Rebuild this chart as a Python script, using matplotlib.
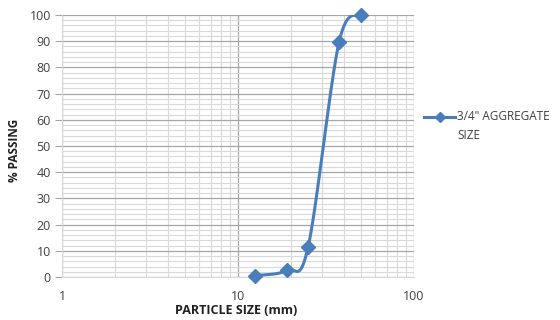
import numpy as np
import matplotlib
matplotlib.use("Agg")
import matplotlib.pyplot as plt
from matplotlib.lines import Line2D
from matplotlib.ticker import FixedLocator, NullFormatter

sizes_mm = [12.5, 19, 25, 37.5, 50]
pct_passing = [0.5, 2.5, 11.3, 89.6, 100]
series_name = '3/4" AGGREGATE\nSIZE'
x_label = "PARTICLE SIZE (mm)"
y_label = "% PASSING"

plt.rcParams['font.family'] = ['Open Sans', 'DejaVu Sans']

fig = plt.figure(figsize=(5.6, 3.2), dpi=100)
ax = fig.add_axes([62/560, 1 - 277/320, (414-62)/560, (277-15)/320])
ax.set_xscale('log')
ax.set_xlim(1, 100)
ax.set_ylim(0, 100)

# Excel-like smoothed line (Bezier spline in log-x / y space)
lx = np.log10(np.array(sizes_mm, dtype=float))
ly = np.array(pct_passing, dtype=float)
P = np.column_stack([lx, ly])
sx, sy = 176.0, 2.62
Pn = P * np.array([sx, sy])
pts = []
n = len(Pn)
for i in range(n - 1):
    p0 = Pn[i - 1] if i > 0 else Pn[i]
    p1 = Pn[i]
    p2 = Pn[i + 1]
    p3 = Pn[i + 2] if i + 2 < n else Pn[i + 1]
    c1 = p1 + (p2 - p0) / 6.0
    c2 = p2 - (p3 - p1) / 6.0
    t = np.linspace(0, 1, 40)[:, None]
    b = (1-t)**3*p1 + 3*(1-t)**2*t*c1 + 3*(1-t)*t**2*c2 + t**3*p2
    pts.append(b)
curve = np.vstack(pts) / np.array([sx, sy])
color = '#4A7EBB'
ax.plot(10**curve[:, 0], curve[:, 1], color=color, lw=2.2, zorder=3)
ax.plot(sizes_mm, pct_passing, linestyle='none', marker='D', ms=7,
        color=color, zorder=4, clip_on=False)

# grid
ax.yaxis.set_major_locator(FixedLocator(np.arange(0, 101, 10)))
ax.yaxis.set_minor_locator(FixedLocator(np.arange(0, 101, 2)))
ax.xaxis.set_major_locator(FixedLocator([1, 10, 100]))
minors = [m * d for d in (1, 10) for m in range(2, 10)]
ax.xaxis.set_minor_locator(FixedLocator(minors))
ax.xaxis.set_minor_formatter(NullFormatter())
ax.set_xticklabels(['1', '10', '100'])
ax.grid(which='major', color='#a6a6a6', lw=0.9)
ax.grid(which='minor', color='#d9d9d9', lw=0.8)
ax.set_axisbelow(True)
for s in ['top', 'right']:
    ax.spines[s].set_visible(False)
ax.spines['left'].set_color('#d9d9d9')
ax.spines['bottom'].set_color('#d9d9d9')
ax.tick_params(axis='y', which='major', length=5, color='#a6a6a6',
               labelsize=9, labelcolor='#404040', pad=3)
ax.tick_params(axis='y', which='minor', length=0)
ax.tick_params(axis='x', which='both', length=0, labelsize=9,
               labelcolor='#404040', pad=9)

ax.set_xlabel(x_label, fontsize=9, fontweight='bold', color='#202020', va='center')
ax.xaxis.set_label_coords(0.495, -0.128)
ax.set_ylabel(y_label, fontsize=8.5, fontweight='bold', color='#202020', va='center')
ax.yaxis.set_label_coords(-0.134, 0.485)

# legend: line + marker aligned with first text line
fig.add_artist(Line2D([424/560, 455/560], [1 - 117/320] * 2, color=color, lw=2.2,
                      transform=fig.transFigure))
fig.add_artist(Line2D([440/560], [1 - 117/320], color=color, marker='D', ms=5,
                      transform=fig.transFigure))
fig.text(457/560, 1 - 110/320, series_name, fontsize=8.5, color='#404040',
         va='top', ha='left', linespacing=1.6)

fig.savefig('out.png', dpi=100)
